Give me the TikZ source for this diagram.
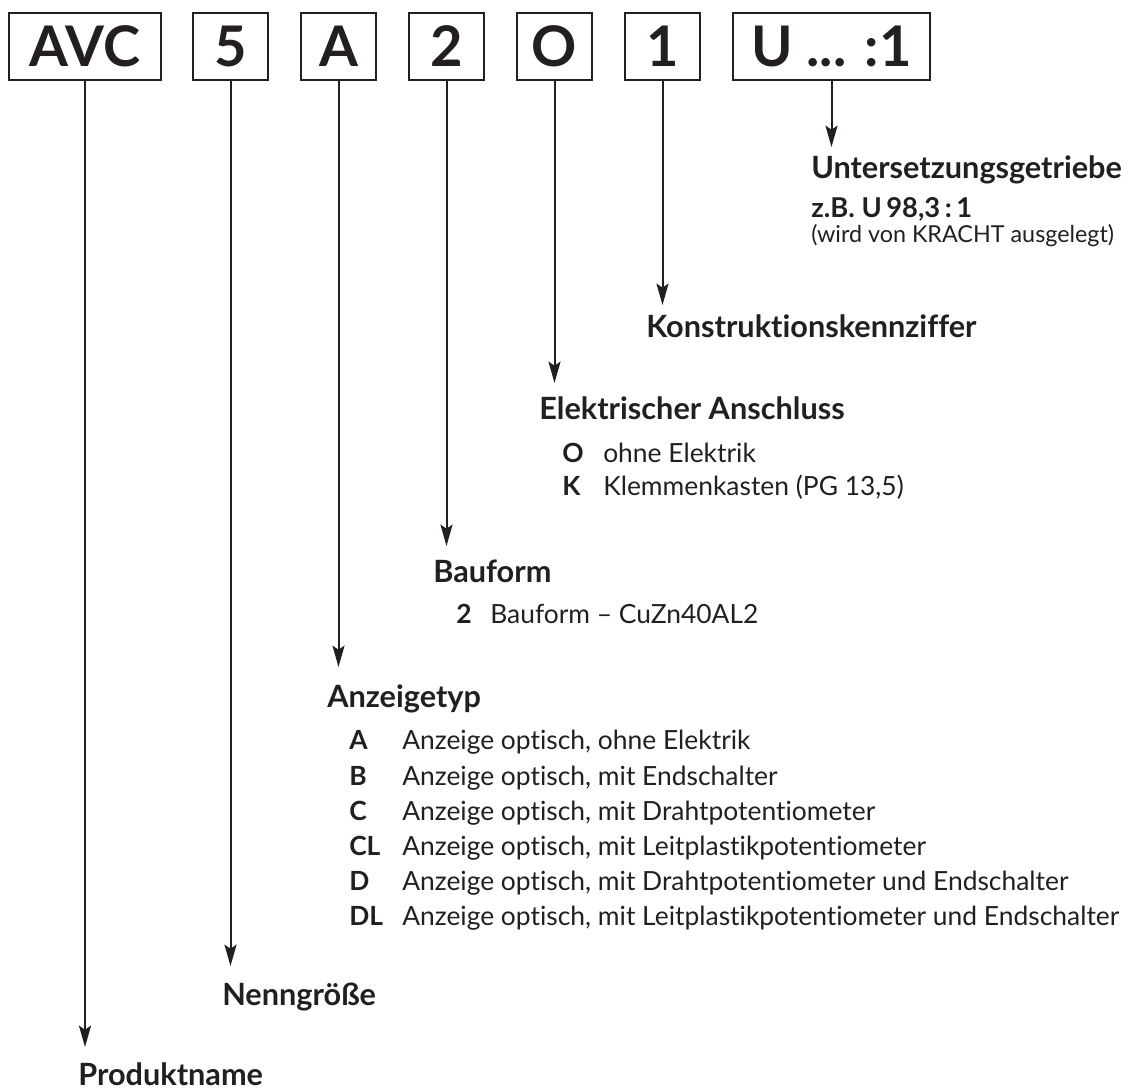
\documentclass[tikz,border=0pt]{standalone}
\usepackage{fontspec}
\setmainfont{Lato}[Ligatures=NoCommon]
\usepackage{tikz}
\usetikzlibrary{positioning, arrows.meta}
\definecolor{krBlack}{HTML}{231f20}

\begin{document}
\begin{tikzpicture}[x=0.75pt, y=-0.75pt, color=krBlack,
          code/.style={draw, line width=1.5pt, minimum width=56.25pt, minimum height=50.25pt, inner sep=0pt, text depth=0pt, font=\fontsize{42}{42}\selectfont\bfseries},
          head/.style={anchor=base west, inner sep=0pt, font=\fontsize{23}{27}\selectfont\bfseries},
          key/.style={anchor=base west, inner sep=0pt, font=\fontsize{19.8}{23}\selectfont\bfseries},
          item/.style={anchor=base west, inner sep=0pt, font=\fontsize{19.8}{23}\selectfont},
          pointer/.style={line width=1.5pt, -{Stealth[length=16pt, width=9pt, inset=3pt]}},
        ]
        \useasboundingbox (0,0) rectangle (1135,1091);
        % type code boxes
        \node[code, minimum width=114pt] (avc) at (85,46.5) {AVC};
        \node[code, right=22.5pt of avc] (size) {5};
        \node[code, right=23.25pt of size] (disp) {A};
        \node[code, right=23.25pt of disp] (form) {2};
        \node[code, right=23.25pt of form] (elec) {O};
        \node[code, right=23.25pt of elec] (cons) {1};
        \node[code, minimum width=147.75pt, right=23.25pt of cons] (gear) {U ... :1};

        % headings
        \node[head] (prod) at (78,1085) {Produktname};
        \node[head] (nenn) at (222,1005) {Nenngröße};
        \node[head] (anz) at (327,707) {Anzeigetyp};
        \node[head] (bau) at (433,582) {Bauform};
        \node[head] (elek) at (539,419) {Elektrischer Anschluss};
        \node[head] (kons) at (646,337) {Konstruktionskennziffer};
        \node[head] (unter) at (811,179) {Untersetzungsgetriebe};

        % arrow tips
        \coordinate (prodTip) at (0,1047);
        \coordinate (nennTip) at (0,966);
        \coordinate (anzTip) at (0,667);
        \coordinate (bauTip) at (0,546);
        \coordinate (elekTip) at (0,383);
        \coordinate (konsTip) at (0,305);
        \coordinate (unterTip) at (0,147);
        \draw[pointer] (avc.south) -- (avc.south |- prodTip);
        \draw[pointer] (size.south) -- (size.south |- nennTip);
        \draw[pointer] (disp.south) -- (disp.south |- anzTip);
        \draw[pointer] (form.south) -- (form.south |- bauTip);
        \draw[pointer] (elec.south) -- (elec.south |- elekTip);
        \draw[pointer] (cons.south) -- (cons.south |- konsTip);
        \draw[pointer] (gear.south) -- (gear.south |- unterTip);

        % gear ratio
        \node[key, font=\fontsize{20.5}{24}\selectfont\bfseries] (gearEx) at (811,218) {z.B. U\,98,3\,:\,1};
        \node[item, font=\fontsize{17.5}{21}\selectfont] (gearNote) at (811,243) {(wird von KRACHT ausgelegt)};

        % electrical connection
        \node[key] (elekO) at (562,462) {O};
        \node[item] (elekOtxt) at (603,462) {ohne Elektrik};
        \node[key] (elekK) at (562,495) {K};
        \node[item] (elekKtxt) at (603,495) {Klemmenkasten (PG 13,5)};

        % design
        \node[key] (bau2) at (456,623) {2};
        \node[item] (bau2txt) at (490,623) {Bauform – CuZn40AL2};

        % display type
        \node[key] (anzA) at (349,749) {A};
        \node[item] (anzAtxt) at (402,749) {Anzeige optisch, ohne Elektrik};
        \node[key] (anzB) at (349,785) {B};
        \node[item] (anzBtxt) at (402,785) {Anzeige optisch, mit Endschalter};
        \node[key] (anzC) at (349,820) {C};
        \node[item] (anzCtxt) at (402,820) {Anzeige optisch, mit Drahtpotentiometer};
        \node[key] (anzCL) at (349,855) {CL};
        \node[item] (anzCLtxt) at (402,855) {Anzeige optisch, mit Leitplastikpotentiometer};
        \node[key] (anzD) at (349,890) {D};
        \node[item] (anzDtxt) at (402,890) {Anzeige optisch, mit Drahtpotentiometer und Endschalter};
        \node[key] (anzDL) at (349,925) {DL};
        \node[item] (anzDLtxt) at (402,925) {Anzeige optisch, mit Leitplastikpotentiometer und Endschalter};
      \end{tikzpicture}
\end{document}
